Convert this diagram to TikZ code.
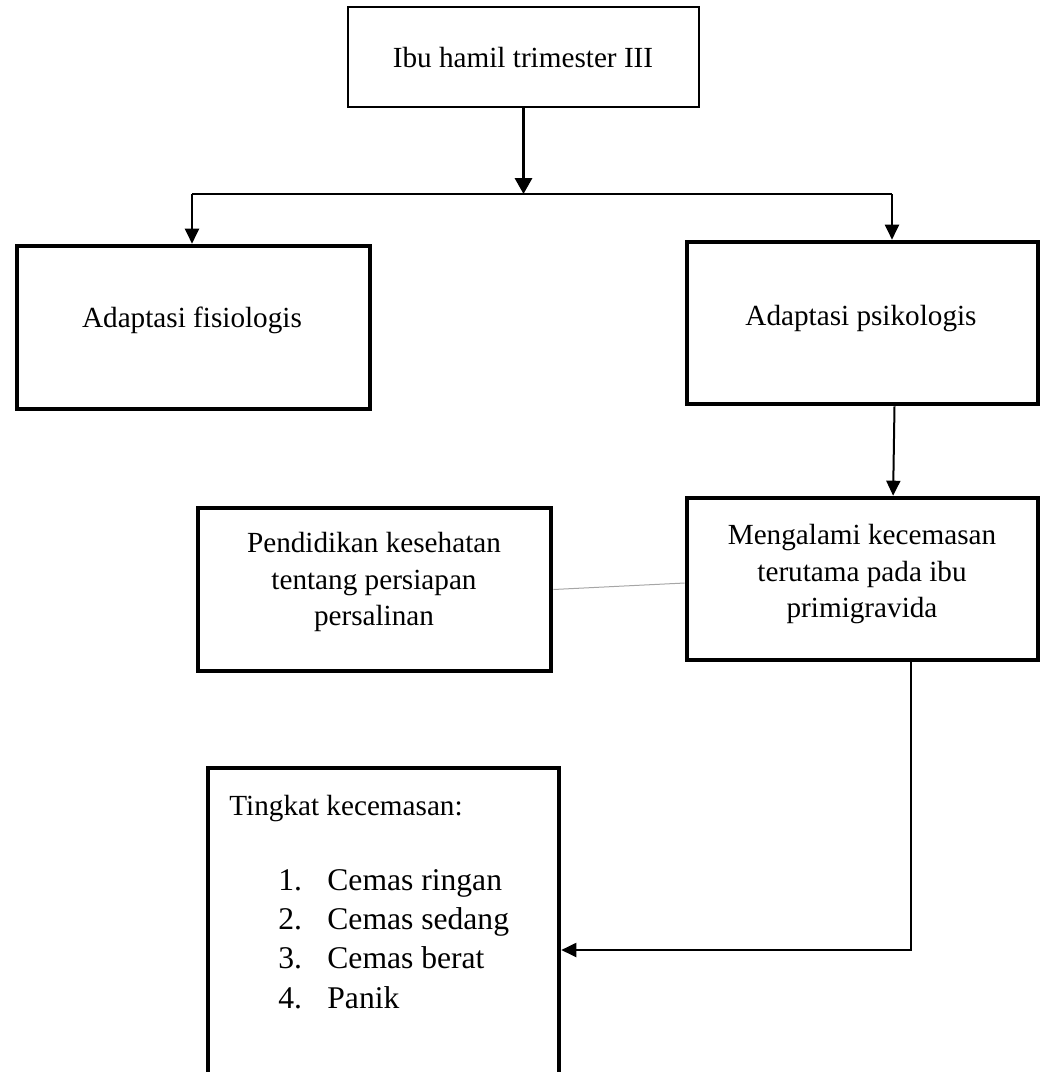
\documentclass[tikz,border=0pt]{standalone}
\usepackage{fontspec}
\setmainfont{Liberation Serif}
\usetikzlibrary{arrows.meta,calc}
\begin{document}
\begin{tikzpicture}[x=0.5pt,y=-0.5pt,
  thinbox/.style={draw,line width=1pt,rectangle,inner sep=0pt},
  thickbox/.style={draw,line width=2.3pt,rectangle,inner sep=0pt},
  txt/.style={inner sep=0pt,anchor=base,font=\fontsize{14.6}{18.5}\selectfont},
  txtl/.style={inner sep=0pt,anchor=base west,font=\fontsize{14.6}{18.5}\selectfont},
  listtxt/.style={inner sep=0pt,anchor=base west,font=\fontsize{15.8}{19.7}\selectfont},
  conn/.style={line width=1pt},
  arr/.style={line width=1pt,-{Triangle[width=7pt,length=7.5pt]}},
  arrbig/.style={line width=1.6pt,-{Triangle[width=8.5pt,length=8pt]}},
  faint/.style={line width=0.5pt,draw=gray!70}]
\useasboundingbox (0,0) rectangle (1045,1072);

% boxes
\node[thinbox,minimum width=175.5pt,minimum height=50pt] (top) at (523.5,57) {};
\node[thickbox,minimum width=176.5pt,minimum height=81.5pt] (fis) at (193.5,327.5) {};
\node[thickbox,minimum width=175.5pt,minimum height=81pt] (psik) at (862.5,323) {};
\node[thickbox,minimum width=175.5pt,minimum height=81pt] (meng) at (862.5,579) {};
\node[thickbox,minimum width=176.5pt,minimum height=81.5pt] (pend) at (374.5,589.5) {};
\node[thickbox,minimum width=175.5pt,minimum height=154pt] (ting) at (383.5,922) {};

% texts
\node[txt] (ttop) at (523,67) {Ibu hamil trimester III};
\node[txt] (tfis) at (192,327) {Adaptasi fisiologis};
\node[txt] (tpsik) at (861,325) {Adaptasi psikologis};
\node[txt] (tmeng1) at (862,544) {Mengalami kecemasan};
\node[txt] (tmeng2) at (862,581) {terutama pada ibu};
\node[txt] (tmeng3) at (862,617) {primigravida};
\node[txt] (tpend1) at (374,552) {Pendidikan kesehatan};
\node[txt] (tpend2) at (374,589) {tentang persiapan};
\node[txt] (tpend3) at (374,625) {persalinan};
\node[txtl] (tting) at (229,815) {Tingkat kecemasan:};
\node[listtxt] (n1) at (278,890) {1.};
\node[listtxt] (i1) at (327,890) {Cemas ringan};
\node[listtxt] (n2) at (278,929) {2.};
\node[listtxt] (i2) at (327,929) {Cemas sedang};
\node[listtxt] (n3) at (278,968) {3.};
\node[listtxt] (i3) at (327,968) {Cemas berat};
\node[listtxt] (n4) at (278,1008) {4.};
\node[listtxt] (i4) at (327,1008) {Panik};

% connectors
\coordinate (jl) at (192,194);
\coordinate (jr) at (892,194);
\coordinate (jm) at (top.south |- jl);
\draw[arrbig] (top.south) -- (jm);
\draw[conn] (jl) -- (jr);
\draw[arr] (jl) -- (jl |- fis.north);
\draw[arr] (jr) -- (jr |- psik.north);
\draw[arr] ([xshift=16pt]psik.south) -- ([xshift=15.3pt]meng.north);
\draw[faint] (pend.east) -- ([yshift=-2pt]meng.west);
\coordinate (bend) at (911,950);
\draw[arr] (meng.south -| bend) -- (bend) -- (bend -| ting.east);
\end{tikzpicture}
\end{document}
